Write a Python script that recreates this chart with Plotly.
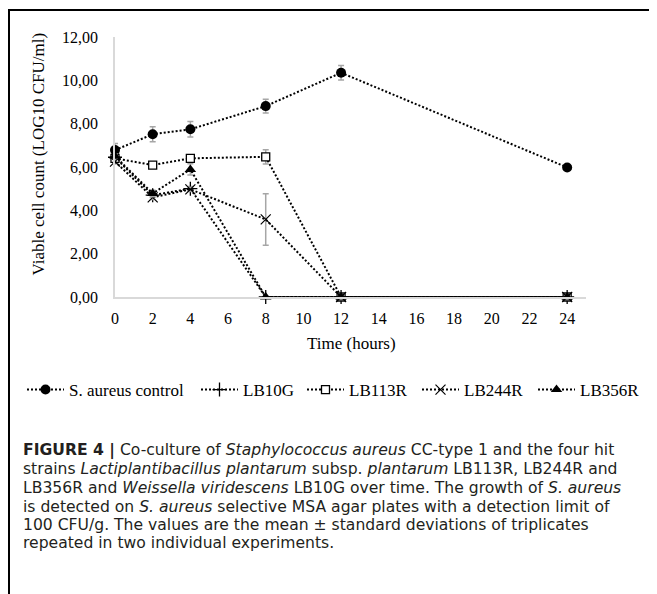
import plotly.graph_objects as go

# ---- data ----
hours = [0, 2, 4, 8, 12, 24]
series_names = ["S. aureus control", "LB10G", "LB113R", "LB244R", "LB356R"]
control = [6.78, 7.51, 7.74, 8.81, 10.35, 5.98]
control_sd = [0.30, 0.35, 0.36, 0.32, 0.34, 0.05]
lb10g = [6.45, 4.70, 5.00, 0.0, 0.0, 0.0]
lb10g_sd = [0.10, 0.10, 0.10, 0.0, 0.0, 0.0]
lb113r = [6.40, 6.09, 6.40, 6.47, 0.0, 0.0]
lb113r_sd = [0.10, 0.10, 0.15, 0.33, 0.0, 0.0]
lb244r = [6.25, 4.60, 4.97, 3.58, 0.0, 0.0]
lb244r_sd = [0.10, 0.10, 0.10, 1.19, 0.0, 0.0]
lb356r = [6.50, 4.78, 5.89, 0.0, 0.0, 0.0]
lb356r_sd = [0.10, 0.15, 0.26, 0.0, 0.0, 0.0]
y_ticks = [0, 2, 4, 6, 8, 10, 12]
x_ticks = list(range(0, 25, 2))

caption_lines = [
    "<b>FIGURE 4 |</b> Co-culture of <i>Staphylococcus aureus</i> CC-type 1 and the four hit",
    "strains <i>Lactiplantibacillus plantarum</i> subsp. <i>plantarum</i> LB113R, LB244R and",
    "LB356R and <i>Weissella viridescens</i> LB10G over time. The growth of <i>S. aureus</i>",
    "is detected on <i>S. aureus</i> selective MSA agar plates with a detection limit of",
    "100 CFU/g. The values are the mean ± standard deviations of triplicates",
    "repeated in two individual experiments.",
]

# ---- layout geometry (page pixels; the page body has an 8px margin) ----
OFF = 8
PAGE_W, PAGE_H = 657, 594
W, H = PAGE_W - OFF, PAGE_H - OFF
AX_L, AX_R, AX_T, AX_B = 115, 586, 37, 297   # plot area in page pixels
L = AX_L - OFF
T = AX_T - OFF
R = W - (AX_R - OFF)
B = H - (AX_B - OFF)
PW, PH = W - L - R, H - T - B


def px2x(px):
    return (px - OFF - L) / PW


def py2y(py):
    return (H - B - (py - OFF)) / PH


SERIF = "Liberation Serif, Times New Roman, serif"
SANS = "DejaVu Sans, Liberation Sans, Arial, sans-serif"

fig = go.Figure()

styles = [
    dict(symbol="circle", color="black", line=dict(width=0), size=10),
    dict(symbol="cross-thin-open", color="black", line=dict(width=1.3, color="black"), size=10),
    dict(symbol="square", color="white", line=dict(width=1.3, color="black"), size=8),
    dict(symbol="x-thin-open", color="black", line=dict(width=1.2, color="black"), size=10),
    dict(symbol="triangle-up", color="black", line=dict(width=0), size=10),
]
values = [control, lb10g, lb113r, lb244r, lb356r]
sds = [control_sd, lb10g_sd, lb113r_sd, lb244r_sd, lb356r_sd]
legend_ids = ["legend", "legend2", "legend3", "legend4", "legend5"]
legend_left = [22, 196, 302, 417, 533]   # page px of each legend entry

for name, vals, sd, st, lid in zip(series_names, values, sds, styles, legend_ids):
    fig.add_trace(go.Scatter(
        x=hours, y=vals, name=name, mode="lines+markers",
        line=dict(color="black", width=2, dash="2px,2px"),
        marker=st,
        error_y=dict(type="data", array=sd, visible=True,
                     color="#A6A6A6", thickness=1.5, width=3),
        cliponaxis=False, legend=lid,
    ))

legend_layout = {}
for lid, lx in zip(legend_ids, legend_left):
    legend_layout[lid] = dict(
        orientation="h", x=px2x(lx), y=py2y(390),
        xanchor="left", yanchor="middle", itemwidth=37,
        font=dict(family=SERIF, size=17, color="black"),
        bgcolor="rgba(0,0,0,0)", itemclick=False, itemdoubleclick=False)

fig.update_layout(
    width=W, height=H,
    margin=dict(l=L, r=R, t=T, b=B, pad=0),
    paper_bgcolor="white", plot_bgcolor="white",
    separators=", ",
    font=dict(family=SERIF, size=16, color="black"),
    showlegend=True,
    xaxis=dict(range=[0, 25], tickvals=x_ticks, showgrid=False, zeroline=False,
               showline=True, linecolor="#D9D9D9", linewidth=1.5,
               ticks="outside", ticklen=6, tickcolor="rgba(0,0,0,0)",
               tickfont=dict(family=SERIF, size=16)),
    yaxis=dict(range=[0, 12], tickvals=y_ticks, tickformat=".2f",
               showgrid=False, zeroline=False,
               showline=True, linecolor="#D9D9D9", linewidth=1.5,
               ticks="outside", ticklen=12, tickcolor="rgba(0,0,0,0)",
               tickfont=dict(family=SERIF, size=16)),
    **legend_layout,
)

annotations = [
    dict(text="Viable cell count (LOG10 CFU/ml)", textangle=-90,
         xref="paper", yref="paper", x=px2x(38), y=py2y(154.5),
         xanchor="center", yanchor="middle", showarrow=False,
         font=dict(family=SERIF, size=17, color="black")),
    dict(text="Time (hours)", xref="paper", yref="paper",
         x=px2x(351), y=py2y(343), xanchor="center", yanchor="middle",
         showarrow=False, font=dict(family=SERIF, size=17, color="black")),
]
cap_y = [450.7, 469.3, 487.7, 506.7, 525.0, 543.3]
for line, cy in zip(caption_lines, cap_y):
    annotations.append(dict(
        text=line, xref="paper", yref="paper", x=px2x(22), y=py2y(cy),
        xanchor="left", yanchor="middle", showarrow=False, align="left",
        borderpad=0,
        font=dict(family=SANS, size=15.6, color="#231F20")))
fig.update_layout(annotations=annotations)

fig.update_layout(shapes=[
    dict(type="line", xref="paper", yref="paper",
         x0=px2x(8), x1=px2x(PAGE_W), y0=py2y(10), y1=py2y(10),
         line=dict(color="black", width=2)),
    dict(type="line", xref="paper", yref="paper",
         x0=px2x(9), x1=px2x(9), y0=py2y(10), y1=py2y(PAGE_H),
         line=dict(color="black", width=2)),
])

fig.write_html("out.html")
